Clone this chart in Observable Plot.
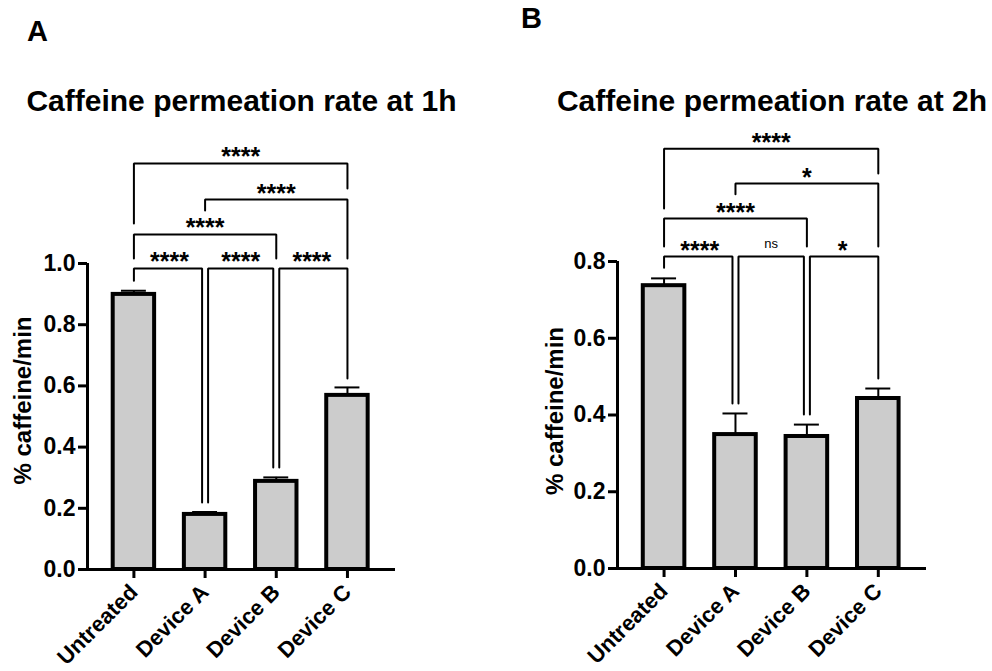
<!DOCTYPE html>
<html><head><meta charset="utf-8">
<script src="https://cdn.jsdelivr.net/npm/d3@7"></script>
<script src="https://cdn.jsdelivr.net/npm/@observablehq/plot@0.6"></script>
<style>
body{margin:0;background:#fff;}
#wrap{position:relative;width:992px;height:671px;overflow:hidden;}
#wrap svg{position:absolute;top:0;overflow:visible;}
</style></head><body><div id="wrap"></div>
<script>
const categories = ["Untreated", "Device A", "Device B", "Device C"];
const mean1h = [0.899, 0.18, 0.288, 0.569];
const sem1h = [0.012, 0.008, 0.013, 0.026];
const mean2h = [0.737, 0.349, 0.344, 0.443];
const sem2h = [0.019, 0.055, 0.031, 0.026];
const yTicks1h = [0, 0.2, 0.4, 0.6, 0.8, 1.0];
const yTicks2h = [0, 0.2, 0.4, 0.6, 0.8];
const titles = ["Caffeine permeation rate at 1h", "Caffeine permeation rate at 2h"];
const panelLetters = ["A", "B"];
const yLabel = "% caffeine/min";
const brackets1h = [
  {from: "Untreated", to: "Device A", y: 0.984, yFrom: 0.944, yTo: 0.219, label: "****"},
  {from: "Device A", to: "Device B", y: 0.984, yFrom: 0.219, yTo: 0.333, label: "****"},
  {from: "Device B", to: "Device C", y: 0.984, yFrom: 0.333, yTo: 0.624, label: "****"},
  {from: "Untreated", to: "Device B", y: 1.095, yFrom: 1.016, yTo: 1.016, label: "****"},
  {from: "Device A", to: "Device C", y: 1.209, yFrom: 1.173, yTo: 1.016, label: "****"},
  {from: "Untreated", to: "Device C", y: 1.327, yFrom: 1.131, yTo: 1.245, label: "****"}
];
const brackets2h = [
  {from: "Untreated", to: "Device A", y: 0.813, yFrom: 0.784, yTo: 0.430, label: "****"},
  {from: "Device A", to: "Device B", y: 0.813, yFrom: 0.430, yTo: 0.401, label: "ns"},
  {from: "Device B", to: "Device C", y: 0.813, yFrom: 0.401, yTo: 0.495, label: "*"},
  {from: "Untreated", to: "Device B", y: 0.912, yFrom: 0.839, yTo: 0.839, label: "****"},
  {from: "Device A", to: "Device C", y: 1.003, yFrom: 0.975, yTo: 0.839, label: "*"},
  {from: "Untreated", to: "Device C", y: 1.094, yFrom: 0.938, yTo: 1.029, label: "****"}
];

const FONT = '"Liberation Sans", Arial, Helvetica, sans-serif';
const xDomain = [-0.652, 3.675];
const barHalf = 0.291, capHalf = 0.175;

function panel(o) {
  const idx = c => categories.indexOf(c);
  const rows = categories.map((c, i) => ({cat: c, i, mean: o.mean[i], sem: o.sem[i]}));
  const pxPerUnit = (o.width - o.ml - o.mr) / (xDomain[1] - xDomain[0]);
  const gap = 3 / pxPerUnit;
  const pts = [];
  o.brackets.forEach((b, k) => {
    const i0 = idx(b.from), i1 = idx(b.to);
    const sharedL = o.brackets.some(c => c !== b && c.y === b.y && idx(c.to) === i0);
    const sharedR = o.brackets.some(c => c !== b && c.y === b.y && idx(c.from) === i1);
    const xl = i0 + (sharedL ? gap : 0), xr = i1 - (sharedR ? gap : 0);
    pts.push({k, x: xl, y: b.yFrom}, {k, x: xl, y: b.y}, {k, x: xr, y: b.y}, {k, x: xr, y: b.yTo});
  });
  const mid = b => (idx(b.from) + idx(b.to)) / 2;
  const yTop = o.yTicks[o.yTicks.length - 1];
  const svg = Plot.plot({
    width: o.width, height: 671,
    marginLeft: o.ml, marginRight: o.mr, marginTop: o.mt, marginBottom: o.mb,
    x: {type: "linear", domain: xDomain, axis: null},
    y: {domain: [0, yTop], axis: null},
    style: {fontFamily: FONT, color: "black", background: "transparent", overflow: "visible"},
    marks: [
      Plot.ruleX(rows, {x: "i", y1: "mean", y2: d => d.mean + d.sem, stroke: "black", strokeWidth: 2}),
      Plot.ruleY(rows, {y: d => d.mean + d.sem, x1: d => d.i - capHalf, x2: d => d.i + capHalf, stroke: "black", strokeWidth: 2}),
      Plot.rect(rows, {x1: d => d.i - barHalf, x2: d => d.i + barHalf, y1: 0, y2: "mean", fill: "#cccccc", stroke: "black", strokeWidth: 4}),
      Plot.ruleY([0], {stroke: "black", strokeWidth: 3}),
      Plot.ruleX([xDomain[0]], {y1: 0, y2: yTop, stroke: "black", strokeWidth: 3}),
      Plot.axisY({ticks: o.yTicks, tickFormat: d3.format(".1f"), tickSize: 9, tickPadding: 3, fontSize: 23, fontWeight: "bold", strokeWidth: 3, label: null}),
      Plot.axisX({ticks: categories.map((c, i) => i), tickFormat: i => categories[i], tickRotate: -45, tickSize: 9, tickPadding: 10, fontSize: 22, fontWeight: "bold", strokeWidth: 3, label: null}),
      Plot.line(pts, {x: "x", y: "y", z: "k", stroke: "black", strokeWidth: 2, strokeLinejoin: "miter", curve: "linear"}),
      Plot.text(o.brackets.filter(b => b.label !== "ns"), {x: mid, y: "y", text: "label", dy: -6, fontSize: 25, fontWeight: "bold"}),
      Plot.text(o.brackets.filter(b => b.label === "ns"), {x: mid, y: "y", text: "label", dy: -13, fontSize: 13}),
      Plot.text([yLabel], {frameAnchor: "left", textAnchor: "middle", lineAnchor: "middle", rotate: -90, dx: o.labelDx, dy: o.labelDy, fontSize: 24, fontWeight: "bold"}),
      Plot.text([o.title], {frameAnchor: "top", textAnchor: "middle", lineAnchor: "middle", dy: o.titleDy, fontSize: 30, fontWeight: "bold"}),
      Plot.text([o.letter], {frameAnchor: "top-left", textAnchor: "middle", lineAnchor: "middle", dx: o.letterDx, dy: o.letterDy, fontSize: 29, fontWeight: "bold"})
    ]
  });
  svg.style.left = o.left + "px";
  return svg;
}

const wrap = document.getElementById("wrap");
wrap.appendChild(panel({
  mean: mean1h, sem: sem1h, yTicks: yTicks1h, brackets: brackets1h, title: titles[0], letter: panelLetters[0],
  left: 0, width: 496, ml: 87, mr: 101, mt: 263, mb: 102,
  labelDx: -64, labelDy: -16, titleDy: -162, letterDx: -50, letterDy: -232
}));
wrap.appendChild(panel({
  mean: mean2h, sem: sem2h, yTicks: yTicks2h, brackets: brackets2h, title: titles[1], letter: panelLetters[1],
  left: 496, width: 496, ml: 121, mr: 66, mt: 261, mb: 103,
  labelDx: -62, labelDy: -4, titleDy: -160, letterDx: -86, letterDy: -243
}));
</script></body></html>
